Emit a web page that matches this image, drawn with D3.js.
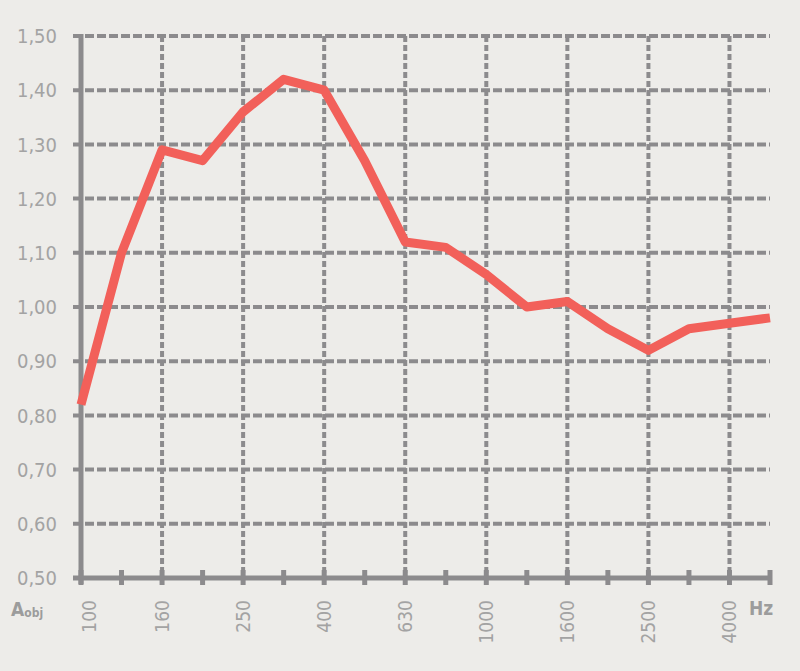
<!DOCTYPE html>
<html><head><meta charset="utf-8">
<script src="https://cdn.jsdelivr.net/npm/d3@7"></script>
<style>
html,body{margin:0;padding:0;background:#edece9;}
svg{display:block;}
text{font-family:"Liberation Sans Narrow","DejaVu Sans Condensed","Liberation Sans",sans-serif;}
</style></head>
<body><div id="chart"></div>
<script>
const freqs = ["100","125","160","200","250","315","400","500","630","800","1000","1250","1600","2000","2500","3150","4000","5000"];
const aobj = [0.82,1.10,1.29,1.27,1.36,1.42,1.40,1.27,1.12,1.11,1.06,1.00,1.01,0.96,0.92,0.96,0.97,0.98];
const labelFreqs = ["100","160","250","400","630","1000","1600","2500","4000"];
const yTicks = [0.5,0.6,0.7,0.8,0.9,1.0,1.1,1.2,1.3,1.4,1.5];

const W = 800, H = 671;
const m = {left:81, right:30, top:36, bottom:93};
const gray = "#8c8b8d", txt = "#a3a3a3";

const svg = d3.select("#chart").append("svg").attr("width",W).attr("height",H);
const x = d3.scalePoint().domain(freqs).range([m.left, W - m.right]);
const y = d3.scaleLinear().domain([0.5,1.5]).range([H - m.bottom, m.top]);
const x0 = m.left, x1 = W - m.right, yb = y(0.5);

// horizontal dashed grid
svg.append("g").selectAll("line").data(yTicks.filter(d=>d>0.5)).join("line")
  .attr("x1", x0 - 8).attr("x2", x1).attr("y1", d=>y(d)).attr("y2", d=>y(d))
  .attr("stroke", gray).attr("stroke-width", 4).attr("stroke-dasharray","9,3");

// vertical dashed grid at labelled freqs
svg.append("g").selectAll("line").data(labelFreqs.slice(1)).join("line")
  .attr("x1", d=>x(d)).attr("x2", d=>x(d)).attr("y1", y(1.5)).attr("y2", yb)
  .attr("stroke", gray).attr("stroke-width", 4).attr("stroke-dasharray","6,3");

// left axis
svg.append("line").attr("x1",x0).attr("x2",x0).attr("y1",y(1.5)-2).attr("y2",yb+6)
  .attr("stroke",gray).attr("stroke-width",5);
// bottom axis
svg.append("line").attr("x1",x0-8).attr("x2",x1+2).attr("y1",yb).attr("y2",yb)
  .attr("stroke",gray).attr("stroke-width",5);
// bottom ticks
svg.append("g").selectAll("line").data(freqs).join("line")
  .attr("x1", d=>x(d)).attr("x2", d=>x(d)).attr("y1", yb-8).attr("y2", yb+7)
  .attr("stroke", gray).attr("stroke-width", 5);

// y labels
const fmt = d => d3.format(".2f")(d).replace(".", ",");
svg.append("g").selectAll("text").data(yTicks).join("text")
  .attr("x", 57).attr("y", d=>y(d)).attr("dy","0.36em")
  .attr("text-anchor","end").attr("font-size",20).attr("fill",txt).text(fmt);

// x labels rotated
svg.append("g").selectAll("text").data(labelFreqs).join("text")
  .attr("transform", d=>`translate(${x(d) + (d==="100"?8:0)},${yb+22}) rotate(-90)`)
  .attr("dy","0.35em").attr("text-anchor","end").attr("font-size",19).attr("fill",txt).text(d=>d);

// axis titles
const at = svg.append("text").attr("x",11).attr("y",yb+38).attr("fill","#9c9c9c")
  .attr("font-weight","bold").attr("font-size",19);
at.append("tspan").text("A");
at.append("tspan").attr("font-size",12).attr("dy",1).text("obj");
svg.append("text").attr("x",749).attr("y",yb+37).attr("fill","#9c9c9c")
  .attr("font-weight","bold").attr("font-size",19).text("Hz");

// data line
const line = d3.line().x((d,i)=>x(freqs[i])).y(d=>y(d));
svg.append("path").datum(aobj).attr("d", line).attr("fill","none")
  .attr("stroke","#f2605a").attr("stroke-width",9).attr("stroke-linejoin","round");
</script></body></html>
